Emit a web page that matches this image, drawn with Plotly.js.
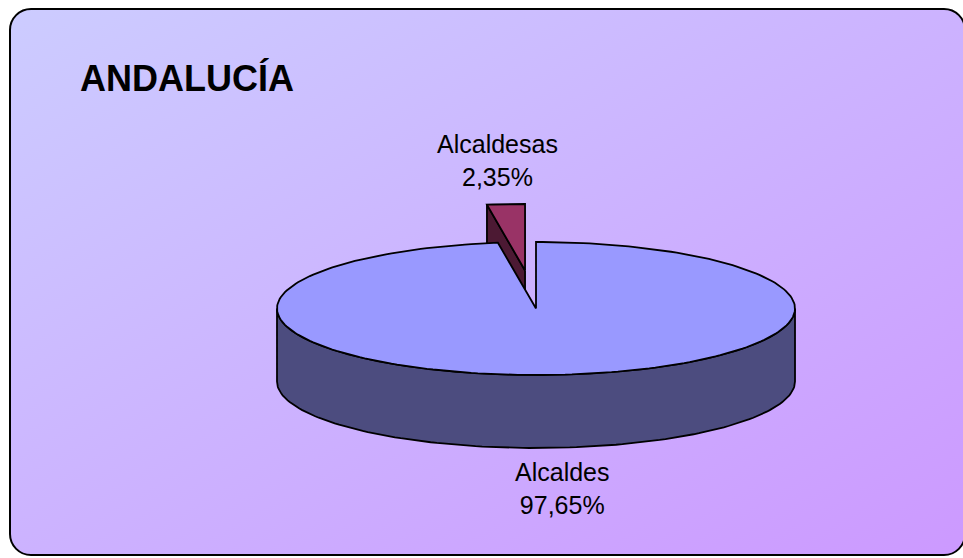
<!DOCTYPE html>
<html>
<head>
<meta charset="utf-8">
<script src="https://cdn.plot.ly/plotly-3.0.1.min.js"></script>
<style>
  html, body { margin: 0; padding: 0; background: #ffffff; width: 963px; height: 558px; overflow: hidden; }
  #frame {
    position: absolute; left: 9px; top: 8px; width: 953px; height: 544px;
    border: 2px solid #000; border-radius: 22px;
    background: linear-gradient(to bottom right, #ccccff, #cc99ff);
  }
  #chart { position: absolute; left: 0; top: 0; width: 963px; height: 558px; }
</style>
</head>
<body>
<div id="frame"></div>
<div id="chart"></div>
<script>
// ---- data ----
const categories = ['Alcaldes', 'Alcaldesas'];
const values = [97.65, 2.35];
const titleText = 'ANDALUCÍA';

// ---- styles / geometry (not data) ----
const topColors = ['#9999ff', '#993366'];
const sideColors = ['#4c4c7f', '#4c1933'];
const explode = [0, 0.573];
const labelAnchors = [[562, 488], [497, 160]];
const G = { cx: 536, cy: 308.5, rx: 259, ry: 66.5, depth: 73 };

const total = values.reduce((a, b) => a + b, 0);
const TWO_PI = Math.PI * 2;

function pt(theta, ox, oy, dz) {
  return [G.cx + ox + G.rx * Math.sin(theta), G.cy + oy - G.ry * Math.cos(theta) + dz];
}
function arc(a0, a1, ox, oy, dz) {
  const n = Math.max(2, Math.ceil(Math.abs(a1 - a0) / TWO_PI * 240));
  const pts = [];
  for (let k = 0; k <= n; k++) pts.push(pt(a0 + (a1 - a0) * k / n, ox, oy, dz));
  return pts;
}
function poly(pts, fill) {
  return {
    type: 'scatter', mode: 'lines', fill: 'toself', fillcolor: fill,
    x: pts.map(p => p[0]), y: pts.map(p => p[1]),
    line: { color: '#000000', width: 1.8 }, hoverinfo: 'skip', showlegend: false
  };
}

// slice angles (clockwise from 12 o'clock)
const slices = [];
let acc = 0;
values.forEach((v, i) => {
  const a0 = acc / total * TWO_PI;
  acc += v;
  const a1 = acc / total * TWO_PI;
  const mid = (a0 + a1) / 2;
  const ox = G.rx * explode[i] * Math.sin(mid);
  const oy = -G.ry * explode[i] * Math.cos(mid);
  slices.push({ i, a0, a1, mid, ox, oy });
});

const wallTraces = [];
const topTraces = [];
slices.forEach(s => {
  const c = [G.cx + s.ox, G.cy + s.oy];
  const eps = 1e-6;
  // radial wall at start edge
  if (Math.sin(s.a0) < -eps) {
    const p = pt(s.a0, s.ox, s.oy, 0), q = pt(s.a0, s.ox, s.oy, G.depth);
    wallTraces.push(poly([c, p, q, [c[0], c[1] + G.depth], c], sideColors[s.i]));
  }
  // radial wall at end edge
  if (Math.sin(s.a1) > eps) {
    const p = pt(s.a1, s.ox, s.oy, 0), q = pt(s.a1, s.ox, s.oy, G.depth);
    wallTraces.push(poly([c, p, q, [c[0], c[1] + G.depth], c], sideColors[s.i]));
  }
  // outer curved wall (front half: 90deg..270deg)
  const f0 = Math.max(s.a0, Math.PI / 2), f1 = Math.min(s.a1, 3 * Math.PI / 2);
  if (f1 > f0) {
    const topArc = arc(f0, f1, s.ox, s.oy, 0);
    const botArc = arc(f1, f0, s.ox, s.oy, G.depth);
    wallTraces.push(poly(topArc.concat(botArc, [topArc[0]]), sideColors[s.i]));
  }
  // top face
  const tp = [c].concat(arc(s.a0, s.a1, s.ox, s.oy, 0), [c]);
  topTraces.push(poly(tp, topColors[s.i]));
});

// draw walls first, then top faces
const data = wallTraces.concat(topTraces);

const fmt = v => v.toFixed(2).replace('.', ',') + '%';
const annotations = categories.map((cat, i) => ({
  x: labelAnchors[i][0], y: labelAnchors[i][1], xref: 'x', yref: 'y',
  text: cat + '<br>' + fmt(values[i]), showarrow: false,
  xanchor: 'center', yanchor: 'middle',
  font: { family: 'Liberation Sans, Arial, sans-serif', size: 25, color: '#000000' }
}));

const layout = {
  width: 963, height: 558,
  margin: { l: 0, r: 0, t: 0, b: 0, pad: 0 },
  paper_bgcolor: 'rgba(0,0,0,0)', plot_bgcolor: 'rgba(0,0,0,0)',
  title: {
    text: '<b>' + titleText + '</b>', x: 80 / 963, xanchor: 'left', xref: 'paper',
    y: 1 - 78 / 558, yanchor: 'middle', yref: 'container',
    font: { family: 'Liberation Sans, Arial, sans-serif', size: 36, color: '#000000' }
  },
  xaxis: { range: [0, 963], visible: false, fixedrange: true },
  yaxis: { range: [558, 0], visible: false, fixedrange: true },
  showlegend: false,
  annotations: annotations
};

Plotly.newPlot('chart', data, layout, { staticPlot: true, displayModeBar: false });
</script>
</body>
</html>
